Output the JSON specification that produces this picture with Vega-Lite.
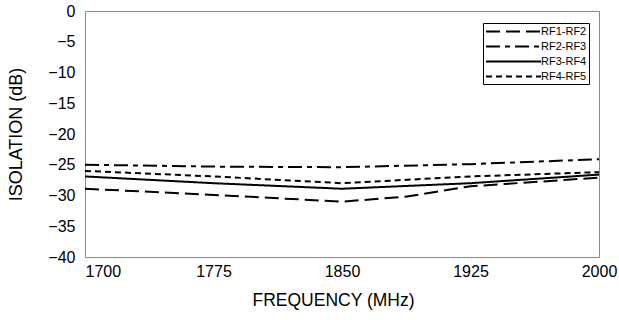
{
  "$schema": "https://vega.github.io/schema/vega-lite/v6.json",
  "width": 514,
  "height": 246,
  "autosize": {"type": "none"},
  "padding": {"left": 85, "top": 11, "right": 20, "bottom": 63},
  "background": "white",
  "config": {
    "font": "Liberation Sans",
    "view": {"stroke": "#888888", "strokeWidth": 1}
  },
  "data": {
    "values": [
      {"freq": 1700, "iso": -28.9, "series": "RF1-RF2"},
      {"freq": 1775, "iso": -29.9, "series": "RF1-RF2"},
      {"freq": 1850, "iso": -31.0, "series": "RF1-RF2"},
      {"freq": 1887, "iso": -30.2, "series": "RF1-RF2"},
      {"freq": 1925, "iso": -28.5, "series": "RF1-RF2"},
      {"freq": 2000, "iso": -27.1, "series": "RF1-RF2"},
      {"freq": 1700, "iso": -25.0, "series": "RF2-RF3"},
      {"freq": 1775, "iso": -25.3, "series": "RF2-RF3"},
      {"freq": 1850, "iso": -25.4, "series": "RF2-RF3"},
      {"freq": 1925, "iso": -24.9, "series": "RF2-RF3"},
      {"freq": 2000, "iso": -24.1, "series": "RF2-RF3"},
      {"freq": 1700, "iso": -26.9, "series": "RF3-RF4"},
      {"freq": 1775, "iso": -28.0, "series": "RF3-RF4"},
      {"freq": 1850, "iso": -28.9, "series": "RF3-RF4"},
      {"freq": 1925, "iso": -28.0, "series": "RF3-RF4"},
      {"freq": 2000, "iso": -26.6, "series": "RF3-RF4"},
      {"freq": 1700, "iso": -26.0, "series": "RF4-RF5"},
      {"freq": 1775, "iso": -26.9, "series": "RF4-RF5"},
      {"freq": 1850, "iso": -28.0, "series": "RF4-RF5"},
      {"freq": 1925, "iso": -26.9, "series": "RF4-RF5"},
      {"freq": 2000, "iso": -26.2, "series": "RF4-RF5"}
    ]
  },
  "mark": {"type": "line", "color": "black", "strokeWidth": 2},
  "encoding": {
    "x": {
      "field": "freq",
      "type": "quantitative",
      "scale": {"domain": [1700, 2000], "nice": false, "zero": false},
      "axis": {
        "title": "FREQUENCY (MHz)",
        "values": [1700, 1775, 1850, 1925, 2000],
        "format": "d",
        "grid": false,
        "ticks": false,
        "domain": false,
        "labelFontSize": 16,
        "labelColor": "black",
        "labelPadding": 6,
        "labelAlign": {"expr": "datum.value === 1700 ? 'left' : 'center'"},
        "titleFontSize": 17.5,
        "titleFontWeight": "normal",
        "titleColor": "black",
        "titlePadding": 12,
        "titleX": 248
      }
    },
    "y": {
      "field": "iso",
      "type": "quantitative",
      "scale": {"domain": [-40, 0], "nice": false},
      "axis": {
        "title": "ISOLATION (dB)",
        "values": [-40, -35, -30, -25, -20, -15, -10, -5, 0],
        "grid": false,
        "ticks": false,
        "domain": false,
        "labelFontSize": 16,
        "labelColor": "black",
        "labelPadding": 10,
        "titleFontSize": 18,
        "titleFontWeight": "normal",
        "titleColor": "black",
        "titleX": -60
      }
    },
    "strokeDash": {
      "field": "series",
      "type": "nominal",
      "scale": {
        "domain": ["RF1-RF2", "RF2-RF3", "RF3-RF4", "RF4-RF5"],
        "range": [[14, 6], [14, 5, 5, 5], [1, 0], [6, 4]]
      },
      "legend": {
        "title": null,
        "orient": "none",
        "legendX": 398,
        "legendY": 12,
        "padding": 2,
        "strokeColor": "black",
        "fillColor": "white",
        "symbolType": "M-1,0H9",
        "symbolSize": 121,
        "symbolStrokeWidth": 2,
        "symbolStrokeColor": "black",
        "symbolFillColor": "transparent",
        "labelFontSize": 11,
        "labelColor": "black",
        "labelOffset": 43,
        "rowPadding": 3
      }
    }
  }
}
